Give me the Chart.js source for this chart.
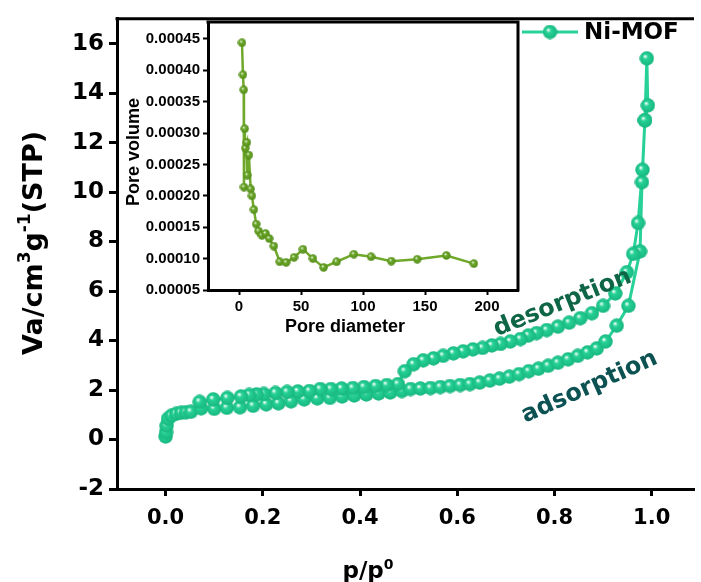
<!DOCTYPE html>
<html>
<head>
<meta charset="utf-8">
<script src="https://cdn.jsdelivr.net/npm/chart.js@4.4.0/dist/chart.umd.min.js"></script>
<style>
  html, body { margin: 0; padding: 0; background: #fff; }
  #wrap { position: relative; width: 701px; height: 582px; overflow: hidden; }
  #mainChart { position: absolute; left: 0; top: 0; }
  #insetChart { position: absolute; left: 100px; top: 10px; }
</style>
</head>
<body>
<div id="wrap">
  <canvas id="mainChart" width="701" height="582"></canvas>
  <canvas id="insetChart" width="430" height="330"></canvas>
</div>
<script>
'use strict';
// colours up here so they are easy to tweak
var mint = '#27d197';
var mintDark = '#16b67e';
var olive = '#6fa82a';
var oliveDark = '#4f8a18';
var desColor = '#0f6646';
var adsColor = '#0c5252';

// isotherm, adsorption branch (p/p0 vs volume)
var adsP = [0.000, 0.001, 0.002, 0.005, 0.012, 0.022, 0.032, 0.042, 0.052, 0.073, 0.100, 0.126, 0.153,
  0.180, 0.207, 0.232, 0.258, 0.285, 0.312, 0.338, 0.363, 0.388, 0.413, 0.438, 0.462, 0.486, 0.504,
  0.524, 0.545, 0.565, 0.585, 0.606, 0.626, 0.646, 0.667, 0.687, 0.707, 0.727, 0.747, 0.767, 0.787,
  0.807, 0.828, 0.848, 0.868, 0.887, 0.905, 0.928, 0.952, 0.976, 0.980, 0.986, 0.990];
var adsV = [0.12, 0.30, 0.56, 0.84, 0.96, 1.04, 1.08, 1.10, 1.12, 1.26, 1.24, 1.28, 1.30,
  1.36, 1.42, 1.46, 1.54, 1.62, 1.66, 1.68, 1.74, 1.78, 1.82, 1.86, 1.90, 1.96, 2.04,
  2.06, 2.08, 2.12, 2.16, 2.20, 2.24, 2.30, 2.38, 2.46, 2.54, 2.64, 2.76, 2.86, 2.98,
  3.10, 3.24, 3.38, 3.52, 3.68, 3.96, 4.60, 5.40, 7.60, 10.40, 12.90, 15.40];
// desorption branch, going back down
var desP = [0.992, 0.986, 0.981, 0.972, 0.962, 0.949, 0.925, 0.900, 0.877, 0.853, 0.830, 0.807,
  0.784, 0.763, 0.746, 0.730, 0.709, 0.689, 0.671, 0.652, 0.632, 0.612, 0.592, 0.571, 0.551,
  0.530, 0.510, 0.492, 0.478, 0.455, 0.432, 0.408, 0.385, 0.362, 0.340, 0.318, 0.296, 0.272,
  0.250, 0.226, 0.202, 0.187, 0.172, 0.155, 0.127, 0.098, 0.070];
var desV = [13.5, 12.9, 10.9, 8.75, 7.5, 6.76, 5.9, 5.4, 5.1, 4.9, 4.72, 4.56,
  4.42, 4.3, 4.2, 4.06, 3.96, 3.86, 3.8, 3.7, 3.64, 3.56, 3.48, 3.38, 3.28,
  3.2, 3.04, 2.76, 2.24, 2.2, 2.16, 2.12, 2.08, 2.06, 2.04, 2.04, 1.96, 1.94,
  1.92, 1.88, 1.84, 1.82, 1.8, 1.74, 1.68, 1.62, 1.52];

// inset: pore size distribution
var poreD = [2.4, 3.2, 3.8, 4.0, 4.6, 5.1, 6.4, 6.7, 8.0, 9.4, 10.4, 12.0, 13.9, 15.8, 18.5, 21.4,
  24.3, 28.1, 32.9, 38.0, 44.4, 51.6, 59.6, 68.2, 78.7, 92.6, 106.5, 122.8, 143.7, 167.2, 189.4];
var poreV = [0.000444, 0.000393, 0.000369, 0.000214, 0.000307, 0.000276, 0.000285, 0.000233, 0.000265,
  0.000211, 0.000200, 0.000178, 0.000155, 0.000144, 0.000137, 0.000140, 0.000132, 0.000120, 0.000095,
  0.000094, 0.000102, 0.000115, 0.000100, 0.000086, 0.000095, 0.000107, 0.000103, 0.000096, 0.000099,
  0.000105, 0.000092];

// tick labels
var xTicks = [0, 0.2, 0.4, 0.6, 0.8, 1.0];
var yTicks = [-2, 0, 2, 4, 6, 8, 10, 12, 14, 16];
var insetXTicks = [0, 50, 100, 150, 200];
var insetYTicks = [0.00005, 0.0001, 0.00015, 0.0002, 0.00025, 0.0003, 0.00035, 0.0004, 0.00045];

var seriesName = 'Ni-MOF';

// main plot uses a wide bold face, the inset a narrower one
var fam = '"DejaVu Sans", Verdana, sans-serif';
var famInset = '"Liberation Sans", Arial, Helvetica, sans-serif';
Chart.defaults.font.family = fam;
Chart.defaults.color = '#000';

// little shaded ball used as the marker
function ball(d, base, dark) {
  var c = document.createElement('canvas');
  c.width = d; c.height = d;
  var g = c.getContext('2d');
  var r = d / 2;
  var grad = g.createRadialGradient(r * 0.75, r * 0.7, r * 0.05, r, r, r);
  grad.addColorStop(0, '#f4fff9');
  grad.addColorStop(0.3, base);
  grad.addColorStop(1, dark);
  g.fillStyle = grad;
  g.beginPath();
  g.arc(r, r, r - 0.3, 0, Math.PI * 2);
  g.fill();
  return c;
}
var mainBall = ball(15, mint, mintDark);
var insetBall = ball(9, olive, oliveDark);

// text with superscripts, centred on cx,cy
function richText(ctx, parts, size, cx, cy, angle, color, family) {
  var f = family || fam;
  var small = Math.round(size * 0.62);
  var w = 0;
  parts.forEach(function (p) {
    ctx.font = 'bold ' + (p[1] ? small : size) + 'px ' + f;
    w += ctx.measureText(p[0]).width;
  });
  ctx.save();
  ctx.translate(cx, cy);
  ctx.rotate(angle);
  ctx.fillStyle = color || '#000';
  ctx.textBaseline = 'alphabetic';
  var x = -w / 2;
  var base = size * 0.36;
  parts.forEach(function (p) {
    ctx.font = 'bold ' + (p[1] ? small : size) + 'px ' + f;
    ctx.fillText(p[0], x, p[1] ? base - size * 0.42 : base);
    x += ctx.measureText(p[0]).width;
  });
  ctx.restore();
}

function xy(xs, ys) {
  return xs.map(function (v, i) { return {x: v, y: ys[i]}; });
}

var mainDecor = {
  id: 'mainDecor',
  beforeDraw: function (chart) {
    var ctx = chart.ctx;
    ctx.save();
    ctx.fillStyle = '#fff';
    ctx.fillRect(0, 0, chart.width, chart.height);
    ctx.restore();
  },
  afterDraw: function (chart) {
    var ctx = chart.ctx, a = chart.chartArea;
    var xs = chart.scales.x, ys = chart.scales.y;
    ctx.save();
    // top frame line
    ctx.strokeStyle = '#000';
    ctx.lineWidth = 3;
    ctx.beginPath();
    ctx.moveTo(a.left - 1.5, a.top);
    ctx.lineTo(a.right, a.top);
    ctx.stroke();
    // legend
    ctx.strokeStyle = mint;
    ctx.lineWidth = 3;
    ctx.beginPath();
    ctx.moveTo(522, 32);
    ctx.lineTo(578, 32);
    ctx.stroke();
    ctx.drawImage(mainBall, 550 - 7.5, 32 - 7.5);
    ctx.fillStyle = '#000';
    ctx.font = 'bold 23px ' + fam;
    ctx.textBaseline = 'middle';
    ctx.fillText(seriesName, 584, 33);
    ctx.restore();
    // axis titles
    richText(ctx, [['Va/cm', 0], ['3', 1], ['g', 0], ['-1', 1], ['(STP)', 0]], 27, 32, 243, -Math.PI / 2);
    richText(ctx, [['p/p', 0], ['0', 1]], 23, 368, 570, 0);
    // branch labels
    richText(ctx, [['desorption', 0]], 24, xs.getPixelForValue(0.815), ys.getPixelForValue(5.6), -22 * Math.PI / 180, desColor);
    richText(ctx, [['adsorption', 0]], 24, xs.getPixelForValue(0.87), ys.getPixelForValue(2.2), -24 * Math.PI / 180, adsColor);
  }
};

var mainChart = new Chart(document.getElementById('mainChart'), {
  type: 'scatter',
  data: {
    datasets: [{
      label: seriesName,
      data: xy(adsP, adsV).concat(xy(desP, desV)),
      showLine: true,
      borderColor: mint,
      borderWidth: 3,
      pointStyle: mainBall,
      tension: 0
    }]
  },
  options: {
    responsive: false,
    animation: false,
    devicePixelRatio: 1,
    layout: {padding: {top: 13, right: 0, left: 0, bottom: 0}},
    plugins: {legend: {display: false}, tooltip: {enabled: false}},
    scales: {
      x: {
        type: 'linear', min: -0.1, max: 1.087,
        afterFit: function (s) { s.height = 93; },
        afterBuildTicks: function (s) { s.ticks = xTicks.map(function (v) { return {value: v}; }); },
        ticks: {font: {size: 21, weight: 'bold'}, color: '#000', padding: 10, maxRotation: 0,
          callback: function (v) { return v.toFixed(1); }},
        grid: {drawOnChartArea: false, drawTicks: true, tickLength: 7, tickWidth: 3, tickColor: '#000'},
        border: {color: '#000', width: 3}
      },
      y: {
        type: 'linear', min: -2, max: 17,
        afterFit: function (s) { s.width = 117; },
        afterBuildTicks: function (s) { s.ticks = yTicks.map(function (v) { return {value: v}; }); },
        ticks: {font: {size: 23, weight: 'bold'}, color: '#000', padding: 5,
          callback: function (v) { return String(v); }},
        grid: {drawOnChartArea: false, drawTicks: true, tickLength: 8, tickWidth: 3, tickColor: '#000'},
        border: {color: '#000', width: 3}
      }
    }
  },
  plugins: [mainDecor]
});

var insetDecor = {
  id: 'insetDecor',
  beforeDraw: function (chart) {
    var ctx = chart.ctx, a = chart.chartArea;
    ctx.save();
    ctx.fillStyle = '#fff';
    ctx.fillRect(a.left, a.top, a.right - a.left, a.bottom - a.top);
    ctx.restore();
  },
  afterDraw: function (chart) {
    var ctx = chart.ctx, a = chart.chartArea;
    ctx.save();
    ctx.strokeStyle = '#000';
    ctx.lineWidth = 3;
    ctx.beginPath();
    ctx.moveTo(a.left - 1.5, a.top);
    ctx.lineTo(a.right, a.top);
    ctx.lineTo(a.right, a.bottom + 1.5);
    ctx.stroke();
    ctx.restore();
    richText(ctx, [['Pore volume', 0]], 18, a.left - 75, 142, -Math.PI / 2, '#000', famInset);
    richText(ctx, [['Pore diameter', 0]], 18, 245, a.bottom + 36, 0, '#000', famInset);
  }
};

var insetChart = new Chart(document.getElementById('insetChart'), {
  type: 'scatter',
  data: {
    datasets: [{
      label: 'Pore volume',
      data: xy(poreD, poreV),
      showLine: true,
      borderColor: olive,
      borderWidth: 2.5,
      pointStyle: insetBall,
      tension: 0
    }]
  },
  options: {
    responsive: false,
    animation: false,
    devicePixelRatio: 1,
    layout: {padding: {top: 10, right: 12, left: 0, bottom: 0}},
    plugins: {legend: {display: false}, tooltip: {enabled: false}},
    scales: {
      x: {
        type: 'linear', min: -25, max: 225,
        afterFit: function (s) { s.height = 50; },
        afterBuildTicks: function (s) { s.ticks = insetXTicks.map(function (v) { return {value: v}; }); },
        ticks: {font: {family: famInset, size: 15, weight: 'bold'}, color: '#000', padding: 3, maxRotation: 0},
        grid: {drawOnChartArea: false, drawTicks: true, tickLength: 5, tickWidth: 2, tickColor: '#000'},
        border: {color: '#000', width: 3}
      },
      y: {
        type: 'linear', min: 0.00005, max: 0.000477,
        afterFit: function (s) { s.width = 108; },
        afterBuildTicks: function (s) { s.ticks = insetYTicks.map(function (v) { return {value: v}; }); },
        ticks: {font: {family: famInset, size: 15, weight: 'bold'}, color: '#000', padding: 3,
          callback: function (v) { return v.toFixed(5); }},
        grid: {drawOnChartArea: false, drawTicks: true, tickLength: 5, tickWidth: 2, tickColor: '#000'},
        border: {color: '#000', width: 3}
      }
    }
  },
  plugins: [insetDecor]
});
</script>
</body>
</html>
